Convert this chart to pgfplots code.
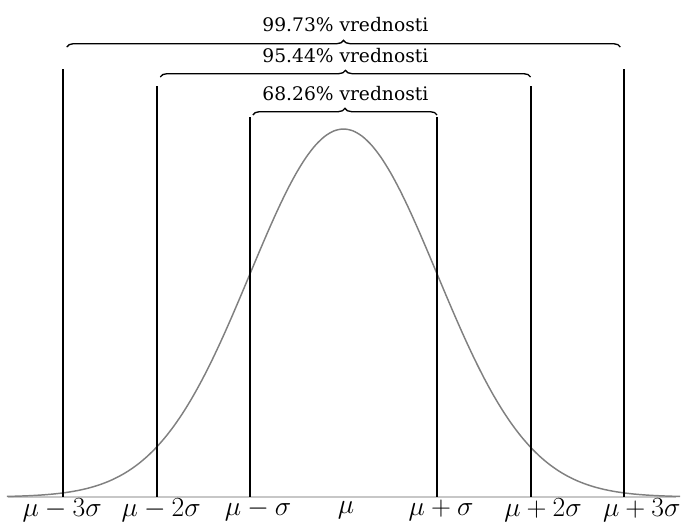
\documentclass[border=0pt]{standalone}
\usepackage{fontspec}
\newfontfamily\capfont{DejaVu Serif}
\usepackage{pgfplots}
\pgfplotsset{compat=1.18}
\usetikzlibrary{decorations.pathreplacing}

\begin{document}
\begin{tikzpicture}
\begin{axis}[
  scale only axis,
  width=511.5pt, height=392.25pt,
  xmin=-3.674, xmax=3.620,
  ymin=-0.02818, ymax=0.5388,
  hide axis, clip=false,
]
% base line
\addplot[draw=black!22, line width=1.5pt] coordinates {(-3.59,0) (3.56,0)};

% standard normal density
\addplot[draw=black!50, line width=1.1pt, smooth] coordinates {
(-3.6,0.000612) (-3.5,0.000873) (-3.4,0.001232) (-3.3,0.001723) (-3.2,0.002384)
(-3.1,0.003267) (-3.0,0.004432) (-2.9,0.005953) (-2.8,0.007915) (-2.7,0.010421)
(-2.6,0.013583) (-2.5,0.017528) (-2.4,0.022395) (-2.3,0.028327) (-2.2,0.035475)
(-2.1,0.043984) (-2.0,0.053991) (-1.9,0.065616) (-1.8,0.078950) (-1.7,0.094049)
(-1.6,0.110921) (-1.5,0.129518) (-1.4,0.149727) (-1.3,0.171369) (-1.2,0.194186)
(-1.1,0.217852) (-1.0,0.241971) (-0.9,0.266085) (-0.8,0.289692) (-0.7,0.312254)
(-0.6,0.333225) (-0.5,0.352065) (-0.4,0.368270) (-0.3,0.381388) (-0.2,0.391043)
(-0.1,0.396953) (0.0,0.398942) (0.1,0.396953) (0.2,0.391043) (0.3,0.381388)
(0.4,0.368270) (0.5,0.352065) (0.6,0.333225) (0.7,0.312254) (0.8,0.289692)
(0.9,0.266085) (1.0,0.241971) (1.1,0.217852) (1.2,0.194186) (1.3,0.171369)
(1.4,0.149727) (1.5,0.129518) (1.6,0.110921) (1.7,0.094049) (1.8,0.078950)
(1.9,0.065616) (2.0,0.053991) (2.1,0.043984) (2.2,0.035475) (2.3,0.028327)
(2.4,0.022395) (2.5,0.017528) (2.6,0.013583) (2.7,0.010421) (2.8,0.007915)
(2.9,0.005953) (3.0,0.004432) (3.1,0.003267) (3.2,0.002384) (3.3,0.001723)
(3.4,0.001232) (3.5,0.000873) (3.6,0.000612)
};

% vertical markers at mu +/- k sigma
\addplot[black, line width=1.5pt] coordinates {(-3,0) (-3,0.464)};
\addplot[black, line width=1.5pt] coordinates {(3,0) (3,0.464)};
\addplot[black, line width=1.5pt] coordinates {(-2,0) (-2,0.4455)};
\addplot[black, line width=1.5pt] coordinates {(2,0) (2,0.4455)};
\addplot[black, line width=1.5pt] coordinates {(-1,0) (-1,0.412)};
\addplot[black, line width=1.5pt] coordinates {(1,0) (1,0.412)};

% braces
\draw[black, line width=1pt, decorate, decoration={brace, amplitude=5pt}]
  (axis cs:-2.96,0.4878) -- (axis cs:2.96,0.4878);
\draw[black, line width=1pt, decorate, decoration={brace, amplitude=5pt}]
  (axis cs:-1.96,0.4553) -- (axis cs:2.0,0.4553);
\draw[black, line width=1pt, decorate, decoration={brace, amplitude=5pt}]
  (axis cs:-0.97,0.4141) -- (axis cs:1.0,0.4141);

% brace captions
\begin{scope}[every node/.style={font=\capfont\fontsize{14}{17}\selectfont}]
\node at (axis cs:0.02,0.5127) {99.73\% vrednosti};
\node at (axis cs:0.02,0.4791) {95.44\% vrednosti};
\node at (axis cs:0.02,0.4379) {68.26\% vrednosti};
\end{scope}

% category labels
\begin{scope}[every node/.style={font=\fontsize{21.5}{25}\selectfont}]
\node at (axis cs:-3.01,-0.0141) {$\mu-3\sigma$};
\node at (axis cs:-1.95,-0.0141) {$\mu-2\sigma$};
\node at (axis cs:-0.914,-0.0141) {$\mu-\sigma$};
\node at (axis cs:0.027,-0.0141) {$\mu$};
\node at (axis cs:1.043,-0.0141) {$\mu+\sigma$};
\node at (axis cs:2.134,-0.0141) {$\mu+2\sigma$};
\node at (axis cs:3.19,-0.0141) {$\mu+3\sigma$};
\end{scope}
\end{axis}
\pgfresetboundingbox
\path (current axis.south west) rectangle (current axis.north east);
\end{tikzpicture}
\end{document}
